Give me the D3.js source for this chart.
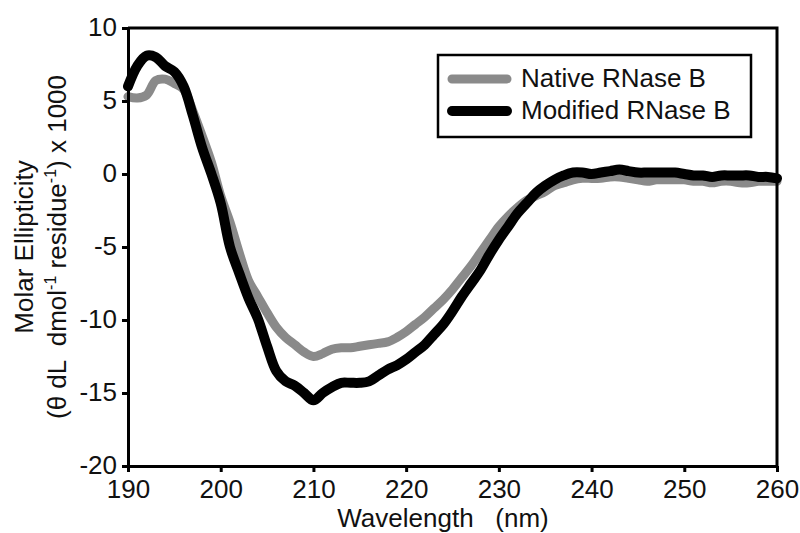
<!DOCTYPE html>
<html>
<head>
<meta charset="utf-8">
<script src="https://cdn.jsdelivr.net/npm/d3@7"></script>
<style>
  body { margin: 0; background: #fff; }
  text { font-family: "Liberation Sans", Arial, sans-serif; fill: #111; }
</style>
</head>
<body>
<div id="chart"></div>
<script>
// wavelength (nm), 1 nm steps
const wavelengths = d3.range(190, 261)

// molar ellipticity x 1000
const nativeValues = [5.3, 5.2, 5.4, 6.4, 6.5, 6.2, 5.8, 4.3, 2.6, 0.8,
  -1.5, -3.3, -5.4, -7.3, -8.4, -9.5, -10.5, -11.2, -11.7, -12.2,
  -12.5, -12.3, -12.0, -11.9, -11.9, -11.8, -11.7, -11.6, -11.5, -11.2,
  -10.8, -10.3, -9.8, -9.2, -8.6, -7.9, -7.1, -6.3, -5.4, -4.5,
  -3.6, -2.9, -2.3, -1.8, -1.5, -1.2, -0.8, -0.6, -0.4, -0.3,
  -0.3, -0.3, -0.2, -0.2, -0.3, -0.4, -0.5, -0.4, -0.4, -0.4,
  -0.4, -0.5, -0.5, -0.6, -0.5, -0.5, -0.6, -0.6, -0.5, -0.5, -0.5]

const modifiedValues = [6.0, 7.4, 8.1, 8.0, 7.4, 7.0, 6.0, 4.0, 1.8, 0.0,
  -2.0, -5.0, -6.8, -8.5, -9.9, -11.8, -13.5, -14.2, -14.5, -15.0,
  -15.5, -15.0, -14.6, -14.3, -14.3, -14.3, -14.2, -13.8, -13.4, -13.1,
  -12.7, -12.2, -11.7, -11.0, -10.3, -9.4, -8.4, -7.5, -6.6, -5.5,
  -4.5, -3.6, -2.7, -2.0, -1.3, -0.8, -0.4, -0.1, 0.1, 0.1,
  0.0, 0.1, 0.2, 0.3, 0.2, 0.1, 0.1, 0.1, 0.1, 0.1,
  0.0, -0.1, -0.1, -0.2, -0.1, -0.1, -0.1, -0.1, -0.2, -0.2, -0.3]

const seriesNames = ['Native RNase B', 'Modified RNase B']
const seriesColors = ['#8a8a8a', '#000000']
const seriesWidths = [9, 10]

const xTicks = [190, 200, 210, 220, 230, 240, 250, 260]
const yTicks = [-20, -15, -10, -5, 0, 5, 10]

let w = 800, h = 533
let margin = {top: 28, right: 23, bottom: 67, left: 128}
const font = '"Liberation Sans", Arial, sans-serif'

const svg = d3.select('#chart').append('svg')
    .attr('width', w)
    .attr('height', h)

const x = d3.scaleLinear().domain([190, 260]).range([margin.left, w - margin.right])
const y = d3.scaleLinear().domain([-20, 10]).range([h - margin.bottom, margin.top])

// curves
const series = [nativeValues, modifiedValues]
const line = d3.line()
    .x((d, i) => x(wavelengths[i]))
    .y(d => y(d))
    .curve(d3.curveCatmullRom.alpha(0.5))

svg.selectAll('.line')
    .data(series)
    .join('path')
    .attr('class', 'line')
    .attr('fill', 'none')
    .attr('stroke', (d, i) => seriesColors[i])
    .attr('stroke-width', (d, i) => seriesWidths[i])
    .attr('stroke-linejoin', 'round')
    .attr('stroke-linecap', 'round')
    .attr('d', line)

// frame on top and right
svg.append('path')
    .attr('fill', 'none')
    .attr('stroke', '#000')
    .attr('stroke-width', 3)
    .attr('d', `M${x(190)},${y(10)}H${x(260)}V${y(-20)}`)

// axes (plain hyphen for negatives, like the original)
const xAxis = svg.append('g')
    .attr('transform', `translate(0,${y(-20)})`)
    .call(d3.axisBottom(x).tickValues(xTicks).tickSize(6).tickSizeOuter(0).tickPadding(8).tickFormat(d => String(d)))
const yAxis = svg.append('g')
    .attr('transform', `translate(${x(190)},0)`)
    .call(d3.axisLeft(y).tickValues(yTicks).tickSize(6).tickSizeOuter(0).tickPadding(5).tickFormat(d => String(d)))

for (const g of [xAxis, yAxis]) {
    g.select('.domain').attr('stroke', '#000').attr('stroke-width', 3)
    g.selectAll('.tick line').attr('stroke', '#000').attr('stroke-width', 3)
    g.selectAll('.tick text')
        .attr('font-size', 26)
        .attr('font-family', font)
        .attr('fill', '#111')
}
yAxis.selectAll('.tick text').attr('dy', '0.3em')

// axis titles
svg.append('text')
    .attr('x', 443)
    .attr('y', 527)
    .attr('text-anchor', 'middle')
    .attr('font-size', 26)
    .style('white-space', 'pre')
    .text('Wavelength   (nm)')

const yTitle = svg.append('g')
    .attr('transform', `translate(0,${(y(10) + y(-20)) / 2}) rotate(-90)`)

yTitle.append('text')
    .attr('x', 0)
    .attr('y', 33)
    .attr('text-anchor', 'middle')
    .attr('font-size', 26)
    .text('Molar Ellipticity')

const t2 = yTitle.append('text')
    .attr('x', 0)
    .attr('y', 66)
    .attr('text-anchor', 'middle')
    .attr('font-size', 26)
    .style('white-space', 'pre')
t2.append('tspan').text('(\u03B8 dL  dmol')
t2.append('tspan').attr('font-size', 16).attr('dy', -10).text('-1')
t2.append('tspan').attr('dy', 10).text(' residue')
t2.append('tspan').attr('font-size', 16).attr('dy', -10).text('-1')
t2.append('tspan').attr('dy', 10).text(') x 1000')

// legend
const legend = svg.append('g').attr('class', 'legend')
legend.append('rect')
    .attr('x', 438)
    .attr('y', 55)
    .attr('width', 313)
    .attr('height', 82)
    .attr('fill', '#fff')
    .attr('stroke', '#000')
    .attr('stroke-width', 2.5)

seriesNames.forEach((name, i) => {
    const ly = 79 + i * 32
    legend.append('line')
        .attr('x1', 452).attr('x2', 507)
        .attr('y1', ly).attr('y2', ly)
        .attr('stroke', seriesColors[i])
        .attr('stroke-width', seriesWidths[i])
        .attr('stroke-linecap', 'round')
    legend.append('text')
        .attr('x', 521)
        .attr('y', ly + 8)
        .attr('font-size', 26)
        .text(name)
})
</script>
</body>
</html>
